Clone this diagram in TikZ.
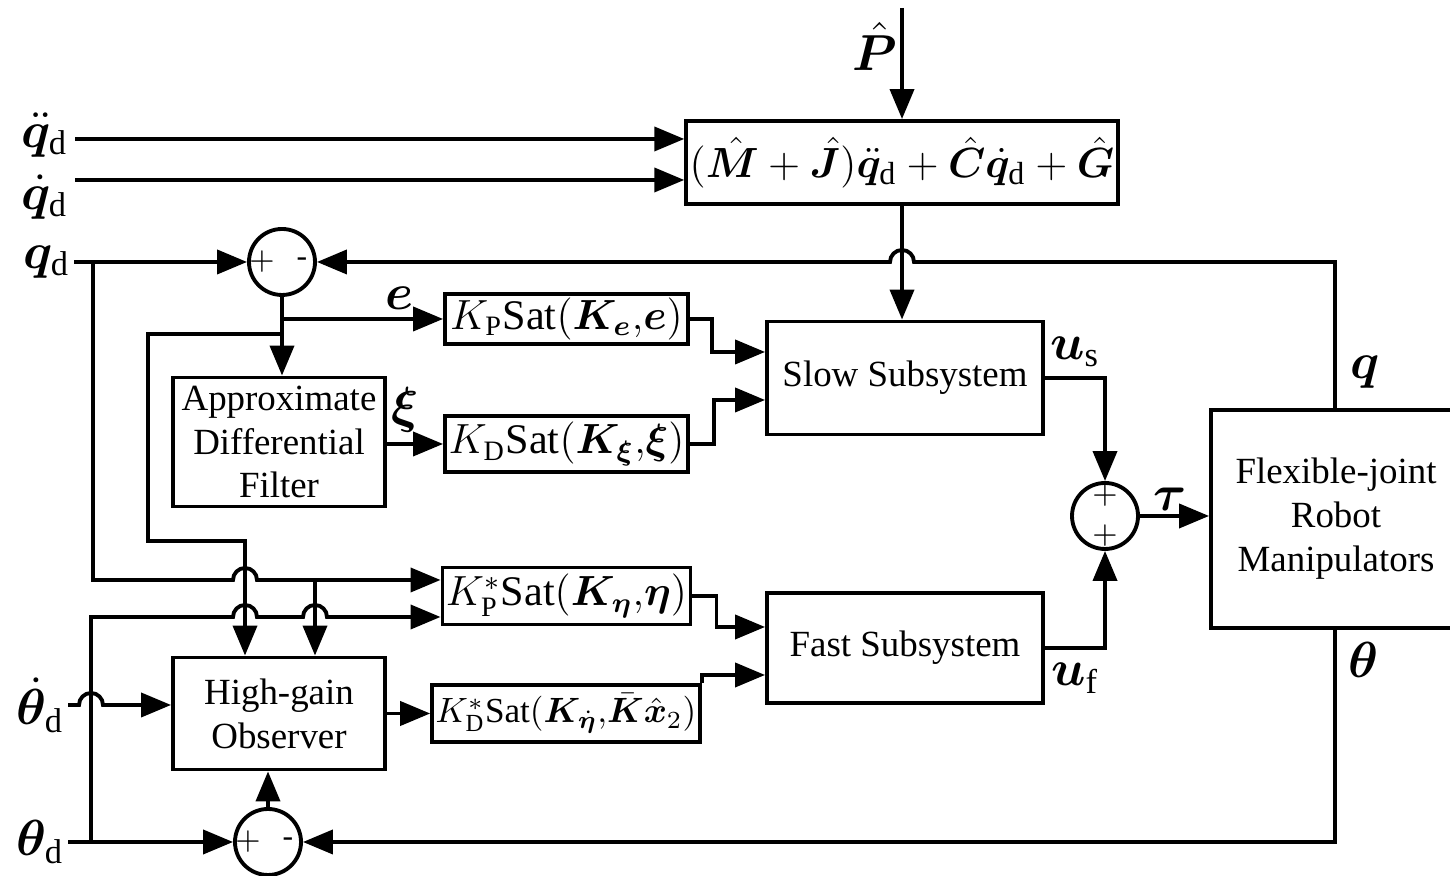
\documentclass[tikz,border=0pt]{standalone}
\usepackage{bm}
\usepackage{fontspec}
\setmainfont{Liberation Serif}
\usetikzlibrary{arrows.meta, positioning}

% line hops
\newcommand{\hopR}{arc[start angle=180, end angle=0, radius=0.12]}
\newcommand{\hopL}{arc[start angle=0, end angle=180, radius=0.12]}

\begin{document}
\begin{tikzpicture}[
  box/.style={rectangle, draw, line width=1.1pt, font=\fontsize{10.5}{12.5}\selectfont, align=center, inner sep=1pt},
  satbox/.style={box, font=\fontsize{12}{14}\selectfont},
  sumnode/.style={circle, draw, line width=1.1pt, minimum size=0.66cm, inner sep=0pt},
  arrow/.style={-{Triangle[length=3mm, width=2.4mm]}, line width=1.1pt},
  line/.style={line width=1.1pt},
  sign/.style={font=\fontsize{9}{9}\selectfont, inner sep=0pt},
  lbl/.style={font=\fontsize{14}{14}\selectfont, inner sep=1pt}
]
\useasboundingbox (0,0) rectangle (14.5,8.76);

% Feedforward
\node[box, minimum width=4.29cm, minimum height=0.83cm, font=\fontsize{13}{15}\selectfont] (dyn) at (9.02, 7.135) {$(\hat{\bm M}+\hat{\bm J})\ddot{\bm q}_{\mathrm d}+\hat{\bm C}\dot{\bm q}_{\mathrm d}+\hat{\bm G}$};
\coordinate (pin) at (9.02, 8.68);
\node[lbl] (phat) at (8.75, 8.3) {$\hat{\bm P}$};

% Saturated gains
\node[satbox, minimum width=2.43cm, minimum height=0.48cm] (kp) at (5.665, 5.57) {$K_{\mathrm P}\mathrm{Sat}(\bm K_{\bm e}{,}\bm e)$};
\node[satbox, minimum width=2.43cm, minimum height=0.56cm] (kd) at (5.665, 4.32) {$K_{\mathrm D}\mathrm{Sat}(\bm K_{\bm\xi}{,}\bm\xi)$};
\node[satbox, minimum width=2.43cm, minimum height=0.57cm] (kps) at (5.665, 2.80) {$K^*_{\mathrm P}\mathrm{Sat}(\bm K_{\bm\eta}{,}\bm\eta)$};
\node[box, minimum width=2.62cm, minimum height=0.57cm, font=\fontsize{10}{12}\selectfont] (kds) at (5.66, 1.625) {$K^*_{\mathrm D}\mathrm{Sat}(\bm K_{\dot{\bm\eta}}{,}\bar{\bm K}\hat{\bm x}_2)$};

% Filter and observer
\node[box, minimum width=2.12cm, minimum height=1.29cm] (filter) at (2.79, 4.34) {Approximate\\Differential\\Filter};
\node[box, minimum width=2.12cm, minimum height=1.12cm] (obs) at (2.79, 1.625) {High-gain\\Observer};

% Subsystems and plant
\node[box, minimum width=2.76cm, minimum height=1.13cm] (slow) at (9.05, 4.98) {Slow Subsystem};
\node[box, minimum width=2.76cm, minimum height=1.10cm] (fast) at (9.05, 2.28) {Fast Subsystem};
\node[box, minimum width=2.5cm, minimum height=2.18cm] (plant) at (13.36, 3.57) {Flexible-joint\\Robot\\Manipulators};

% Summing junctions
\node[sumnode] (sum1) at (2.82, 6.14) {};
\node[sign] (sum1p) at ([xshift=-0.2cm]sum1.center) {$+$};
\node[sign] (sum1m) at ([xshift=0.2cm]sum1.center) {-};
\node[sumnode] (sum2) at (11.05, 3.60) {};
\node[sign] (sum2a) at ([yshift=0.2cm]sum2.center) {$+$};
\node[sign] (sum2b) at ([yshift=-0.2cm]sum2.center) {$+$};
\node[sumnode] (sum3) at (2.68, 0.34) {};
\node[sign] (sum3p) at ([xshift=-0.2cm]sum3.center) {$+$};
\node[sign] (sum3m) at ([xshift=0.2cm]sum3.center) {-};

% Inputs
\node[lbl, anchor=east] (qdd) at (0.72, 7.41) {$\ddot{\bm q}_{\mathrm d}$};
\node[lbl, anchor=east] (qd1) at (0.72, 6.79) {$\dot{\bm q}_{\mathrm d}$};
\node[lbl, anchor=east] (qd) at (0.74, 6.14) {$\bm q_{\mathrm d}$};
\node[lbl, anchor=east] (thd1) at (0.68, 1.71) {$\dot{\bm\theta}_{\mathrm d}$};
\node[lbl, anchor=east] (thd) at (0.68, 0.34) {$\bm\theta_{\mathrm d}$};
\coordinate (qddin) at (0.75, 7.37);
\coordinate (qd1in) at (0.75, 6.96);

% Signal labels
\node[lbl] (elbl) at (4.0, 5.78) {$\bm e$};
\node[lbl] (xilbl) at (4.05, 4.66) {$\bm\xi$};
\node[lbl] (uslbl) at (10.75, 5.24) {$\bm u_{\mathrm s}$};
\node[lbl] (uflbl) at (10.75, 1.98) {$\bm u_{\mathrm f}$};
\node[lbl] (taulbl) at (11.70, 3.77) {$\bm\tau$};
\node[lbl] (qlbl) at (13.65, 5.04) {$\bm q$};
\node[lbl] (thlbl) at (13.63, 2.16) {$\bm\theta$};

% Junction points
\coordinate (j1) at (2.82, 5.57);
\coordinate (j2) at (2.82, 5.42);
\coordinate (jo) at (2.45, 3.35);
\coordinate (jq) at (0.93, 6.14);
\coordinate (jqo) at (3.15, 2.96);
\coordinate (jt) at (0.91, 0.34);
\coordinate (qin) at ([yshift=0.16cm]kps.west);
\coordinate (tin) at ([yshift=-0.21cm]kps.west);
\coordinate (sin1) at ([yshift=0.26cm]slow.west);
\coordinate (sin2) at ([yshift=-0.22cm]slow.west);
\coordinate (fin1) at ([yshift=0.21cm]fast.west);
\coordinate (fin2) at ([yshift=-0.27cm]fast.west);
\coordinate (qfb) at (13.35, 6.14);
\coordinate (tfb) at (13.35, 0.34);

% Arrows
\draw[arrow] (pin) -- (dyn.north);
\draw[arrow] (qddin) -- (qddin -| dyn.west);
\draw[arrow] (qd1in) -- (qd1in -| dyn.west);
\draw[arrow] (dyn.south) -- (dyn.south |- slow.north);
\draw[arrow] (qd.east) -- (sum1.west);
\draw[line] (sum1.south) -- (j1);
\draw[arrow] (j1) -- (kp.west |- j1);
\draw[arrow] (j1) -- (j1 |- filter.north);
\draw[arrow] (j2) -| (1.48, 3.35) -- (jo) -- (jo |- obs.north);
\draw[arrow] (jq) |- (2.33, 2.96) \hopR -- (qin);
\draw[arrow] (jqo) -- (jqo |- obs.north);
\draw[arrow] (jt) |- (2.33, 2.59) \hopR -- (3.03, 2.59) \hopR -- (tin);
\draw[arrow] (thd1.east) -- (0.79, 1.71) \hopR -- (obs.west |- thd1.east);
\draw[arrow] (thd.east) -- (sum3.west);
\draw[arrow] (sum3.north) -- (sum3.north |- obs.south);
\draw[arrow] (filter.east |- kd.west) -- (kd.west);
\draw[arrow] (obs.east) -- (kds.west);
\draw[arrow] (kp.east) -- ++(0.22,0) |- (sin1);
\draw[arrow] (kd.east) -- ++(0.24,0) |- (sin2);
\draw[arrow] (kps.east) -- ++(0.24,0) |- (fin1);
\draw[arrow] (kds.north east) |- (fin2);
\draw[arrow] (slow.east) -| (sum2.north);
\draw[arrow] (fast.east) -| (sum2.south);
\draw[arrow] (sum2.east) -- (plant.west |- sum2.east);
\draw[arrow] (qfb |- plant.north) -- (qfb) -- (9.14, 6.14) \hopL -- (sum1.east);
\draw[arrow] (qfb |- plant.south) -- (tfb) -- (sum3.east);

\end{tikzpicture}
\end{document}
